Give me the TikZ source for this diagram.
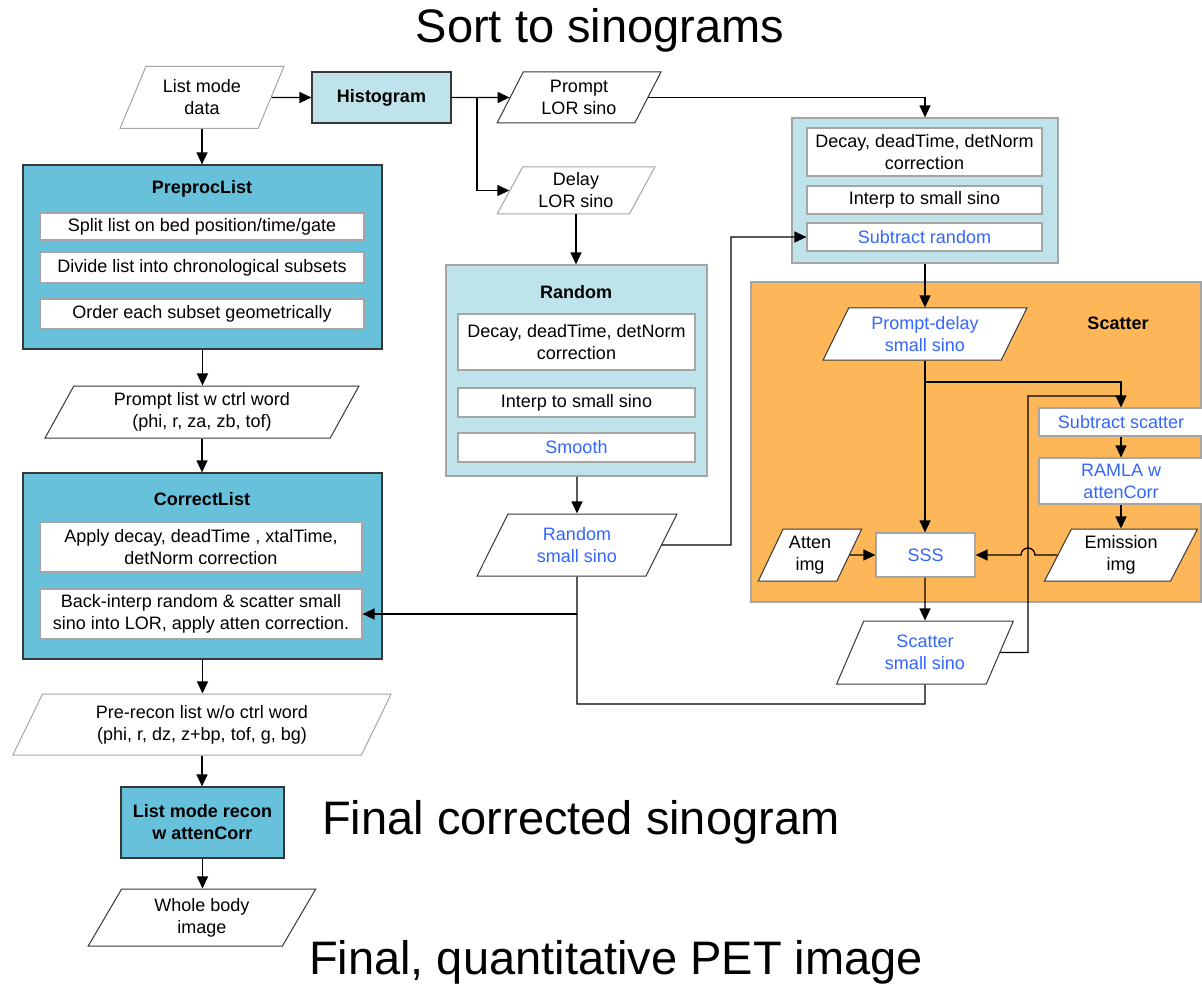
\documentclass[tikz,border=0pt]{standalone}
\usepackage{fontspec}
\setmainfont{Liberation Sans}
\usetikzlibrary{shapes.geometric,arrows.meta}

\definecolor{midblue}{RGB}{103,193,219}
\definecolor{paleblue}{RGB}{191,227,234}
\definecolor{scatorange}{RGB}{253,183,89}
\definecolor{bluetext}{RGB}{51,102,255}
\definecolor{darkline}{RGB}{55,55,55}
\definecolor{softline}{RGB}{165,165,165}

\tikzset{
  sino/.style={trapezium, trapezium left angle=63, trapezium right angle=117,
    trapezium stretches=true, draw=darkline, fill=white, align=center,
    line width=1pt, inner sep=0pt},
  task/.style={rectangle, draw=softline, fill=white, align=center,
    line width=1.2pt, inner sep=0pt},
  proc/.style={rectangle, draw=darkline, fill=midblue, line width=1.2pt},
  group/.style={rectangle, draw=softline, fill=paleblue, line width=1.2pt},
  heading/.style={font=\fontsize{18}{22}\selectfont\bfseries},
  big/.style={font=\fontsize{47}{50}\selectfont, inner sep=0pt},
  flow/.style={line width=1.3pt, -{Triangle[length=12pt,width=11pt]}},
  wire/.style={line width=1.3pt}
}

\begin{document}
\begin{tikzpicture}[x=1pt,y=-1pt,font=\fontsize{18}{22}\selectfont]
\useasboundingbox (0,0) rectangle (1202,984);

      \node[big] (sorttitle) at (600,30) {Sort to sinograms};
      \node[big,anchor=west] (fincorr) at (322,822) {Final corrected sinogram};
      \node[big] (finimg) at (616,962) {Final, quantitative PET image};

      \begin{scope}
        \node[proc, minimum width=359, minimum height=184] (preproc) at (202.5,257) {};
        \node[proc, minimum width=359, minimum height=186] (correct) at (202.5,566) {};
        \node[group, minimum width=261, minimum height=211] (random) at (576.5,370.5) {};
        \node[group, minimum width=266, minimum height=145] (subbox) at (925,190.5) {};
        \node[rectangle, draw=softline, fill=scatorange, line width=1.2pt,
              minimum width=450, minimum height=320] (scatter) at (976,442) {};
      \end{scope}

      \begin{scope}[every node/.style={heading}]
        \node (preproctitle) at (202,189) {PreprocList};
        \node (correcttitle) at (202,499) {CorrectList};
        \node (randomtitle) at (576,292) {Random};
        \node (scattertitle) at (1118,323) {Scatter};
      \end{scope}

      \node[group, draw=darkline, heading, minimum width=139, minimum height=51] (hist) at (381.5,97.5) {Histogram};
      \node[proc, heading, align=center, minimum width=163, minimum height=71] (lmrecon) at (202.5,822.5) {List mode recon\\w attenCorr};

      \begin{scope}[every node/.style={task, minimum width=324}]
        \node[minimum height=27] (split) at (202,226.5) {Split list on bed position/time/gate};
        \node[minimum height=31] (divide) at (202,267.5) {Divide list into chronological subsets};
        \node[minimum height=30] (order) at (202,314) {Order each subset geometrically};
      \end{scope}

      \begin{scope}[every node/.style={task, minimum width=322, minimum height=50}]
        \node (apply) at (201,547) {Apply decay, deadTime , xtalTime,\\detNorm correction};
        \node (backinterp) at (201,614) {Back-interp random \& scatter small\\sino into LOR, apply atten correction.};
      \end{scope}

      \begin{scope}[every node/.style={task, minimum width=237}]
        \node[minimum height=56] (rdecay) at (576.5,342) {Decay, deadTime, detNorm\\correction};
        \node[minimum height=29] (rinterp) at (576.5,402.5) {Interp to small sino};
        \node[minimum height=29, text=bluetext] (smooth) at (576.5,447.5) {Smooth};
      \end{scope}

      \begin{scope}[every node/.style={task, minimum width=235}]
        \node[minimum height=48] (udecay) at (924.5,152) {Decay, deadTime, detNorm\\correction};
        \node[minimum height=28] (uinterp) at (924.5,200) {Interp to small sino};
        \node[minimum height=28, text=bluetext] (subrand) at (924.5,237) {Subtract random};
      \end{scope}

      \begin{scope}[every node/.style={task, text=bluetext, minimum width=164}]
        \node[minimum height=28] (subscat) at (1121,422) {Subtract scatter};
        \node[minimum height=46] (ramla) at (1121,481) {RAMLA w\\attenCorr};
        \node[minimum width=99, minimum height=44] (sss) at (925.5,555) {SSS};
      \end{scope}

      \begin{scope}[every node/.style={sino}]
        \node[draw=softline, minimum width=164, minimum height=62] (lmdata) at (202,97.5) {List mode\\data};
        \node[minimum width=164, minimum height=51] (promptlor) at (579,97.5) {Prompt\\LOR sino};
        \node[draw=softline, minimum width=158, minimum height=47] (delaylor) at (576,190.5) {Delay\\LOR sino};
        \node[minimum width=314, minimum height=52] (promptlist) at (202,412) {Prompt list w ctrl word\\(phi, r, za, zb, tof)};
        \node[draw=softline, minimum width=379, minimum height=61] (prerecon) at (202,724.5) {Pre-recon list w/o ctrl word\\(phi, r, dz, z+bp, tof, g, bg)};
        \node[minimum width=228, minimum height=57] (wholebody) at (202,917.5) {Whole body\\image};
        \node[text=bluetext, minimum width=200, minimum height=62] (randsino) at (577,545) {Random\\small sino};
        \node[text=bluetext, minimum width=204, minimum height=52] (pdsino) at (925,334) {Prompt-delay\\small sino};
        \node[minimum width=104, minimum height=52] (atten) at (810,555) {Atten\\img};
        \node[minimum width=153, minimum height=52] (emission) at (1121,555) {Emission\\img};
        \node[text=bluetext, minimum width=177, minimum height=63] (scatsino) at (925,652.5) {Scatter\\small sino};
      \end{scope}

      \coordinate (histsplit) at (477,97.5);
      \coordinate (randturn) at (731,545);
      \coordinate (randjoin) at (577,614);
      \coordinate (randbot) at (577,704);
      \coordinate (pdsplit) at (925,382);
      \coordinate (scatturn) at (1028,652.5);
      \coordinate (scatjoin) at (1121,396);
      \coordinate (hopright) at (1035,555);

      \begin{scope}[every edge/.style={draw, flow}]
        \path (lmdata)  edge (hist);
        \path (hist)  edge (promptlor);
        \path (lmdata.south)  edge (lmdata.south |- preproc.north);
        \path (preproc.south)  edge (preproc.south |- promptlist.north);
        \path (promptlist.south)  edge (promptlist.south |- correct.north);
        \path (correct.south)  edge (correct.south |- prerecon.north);
        \path (prerecon.south)  edge (prerecon.south |- lmrecon.north);
        \path (lmrecon.south)  edge (lmrecon.south |- wholebody.north);
        \path (delaylor.south)  edge (delaylor.south |- random.north);
        \path (random.south -| randsino)  edge (randsino.north);
        \path (subbox.south)  edge (subbox.south |- pdsino.north);
        \path (pdsino.south)  edge (pdsino.south |- sss.north);
        \path (sss.south -| scatsino)  edge (scatsino.north);
        \path (subscat.south)  edge (ramla.north);
        \path (ramla.south)  edge (ramla.south |- emission.north);
        \path (atten)  edge (sss);
        \path (randjoin)  edge (randjoin -| backinterp.east);
      \end{scope}

      \draw[flow] (histsplit) |- (delaylor.west);
      \draw[flow] (promptlor.east) -| (subbox.north);
      \draw[flow] (randsino.east) -- (randturn) |- (subrand.west);
      \draw[wire] (randsino.south) -- (randbot) -| (scatsino.south);
      \draw[flow] (pdsplit) -| (subscat.north);
      \draw[wire] (scatsino.east) -- (scatturn) |- (scatjoin);
      \draw[flow] (emission.west) -- (hopright) arc[start angle=0, end angle=180, radius=7pt] -- (sss.east);

\end{tikzpicture}
\end{document}
